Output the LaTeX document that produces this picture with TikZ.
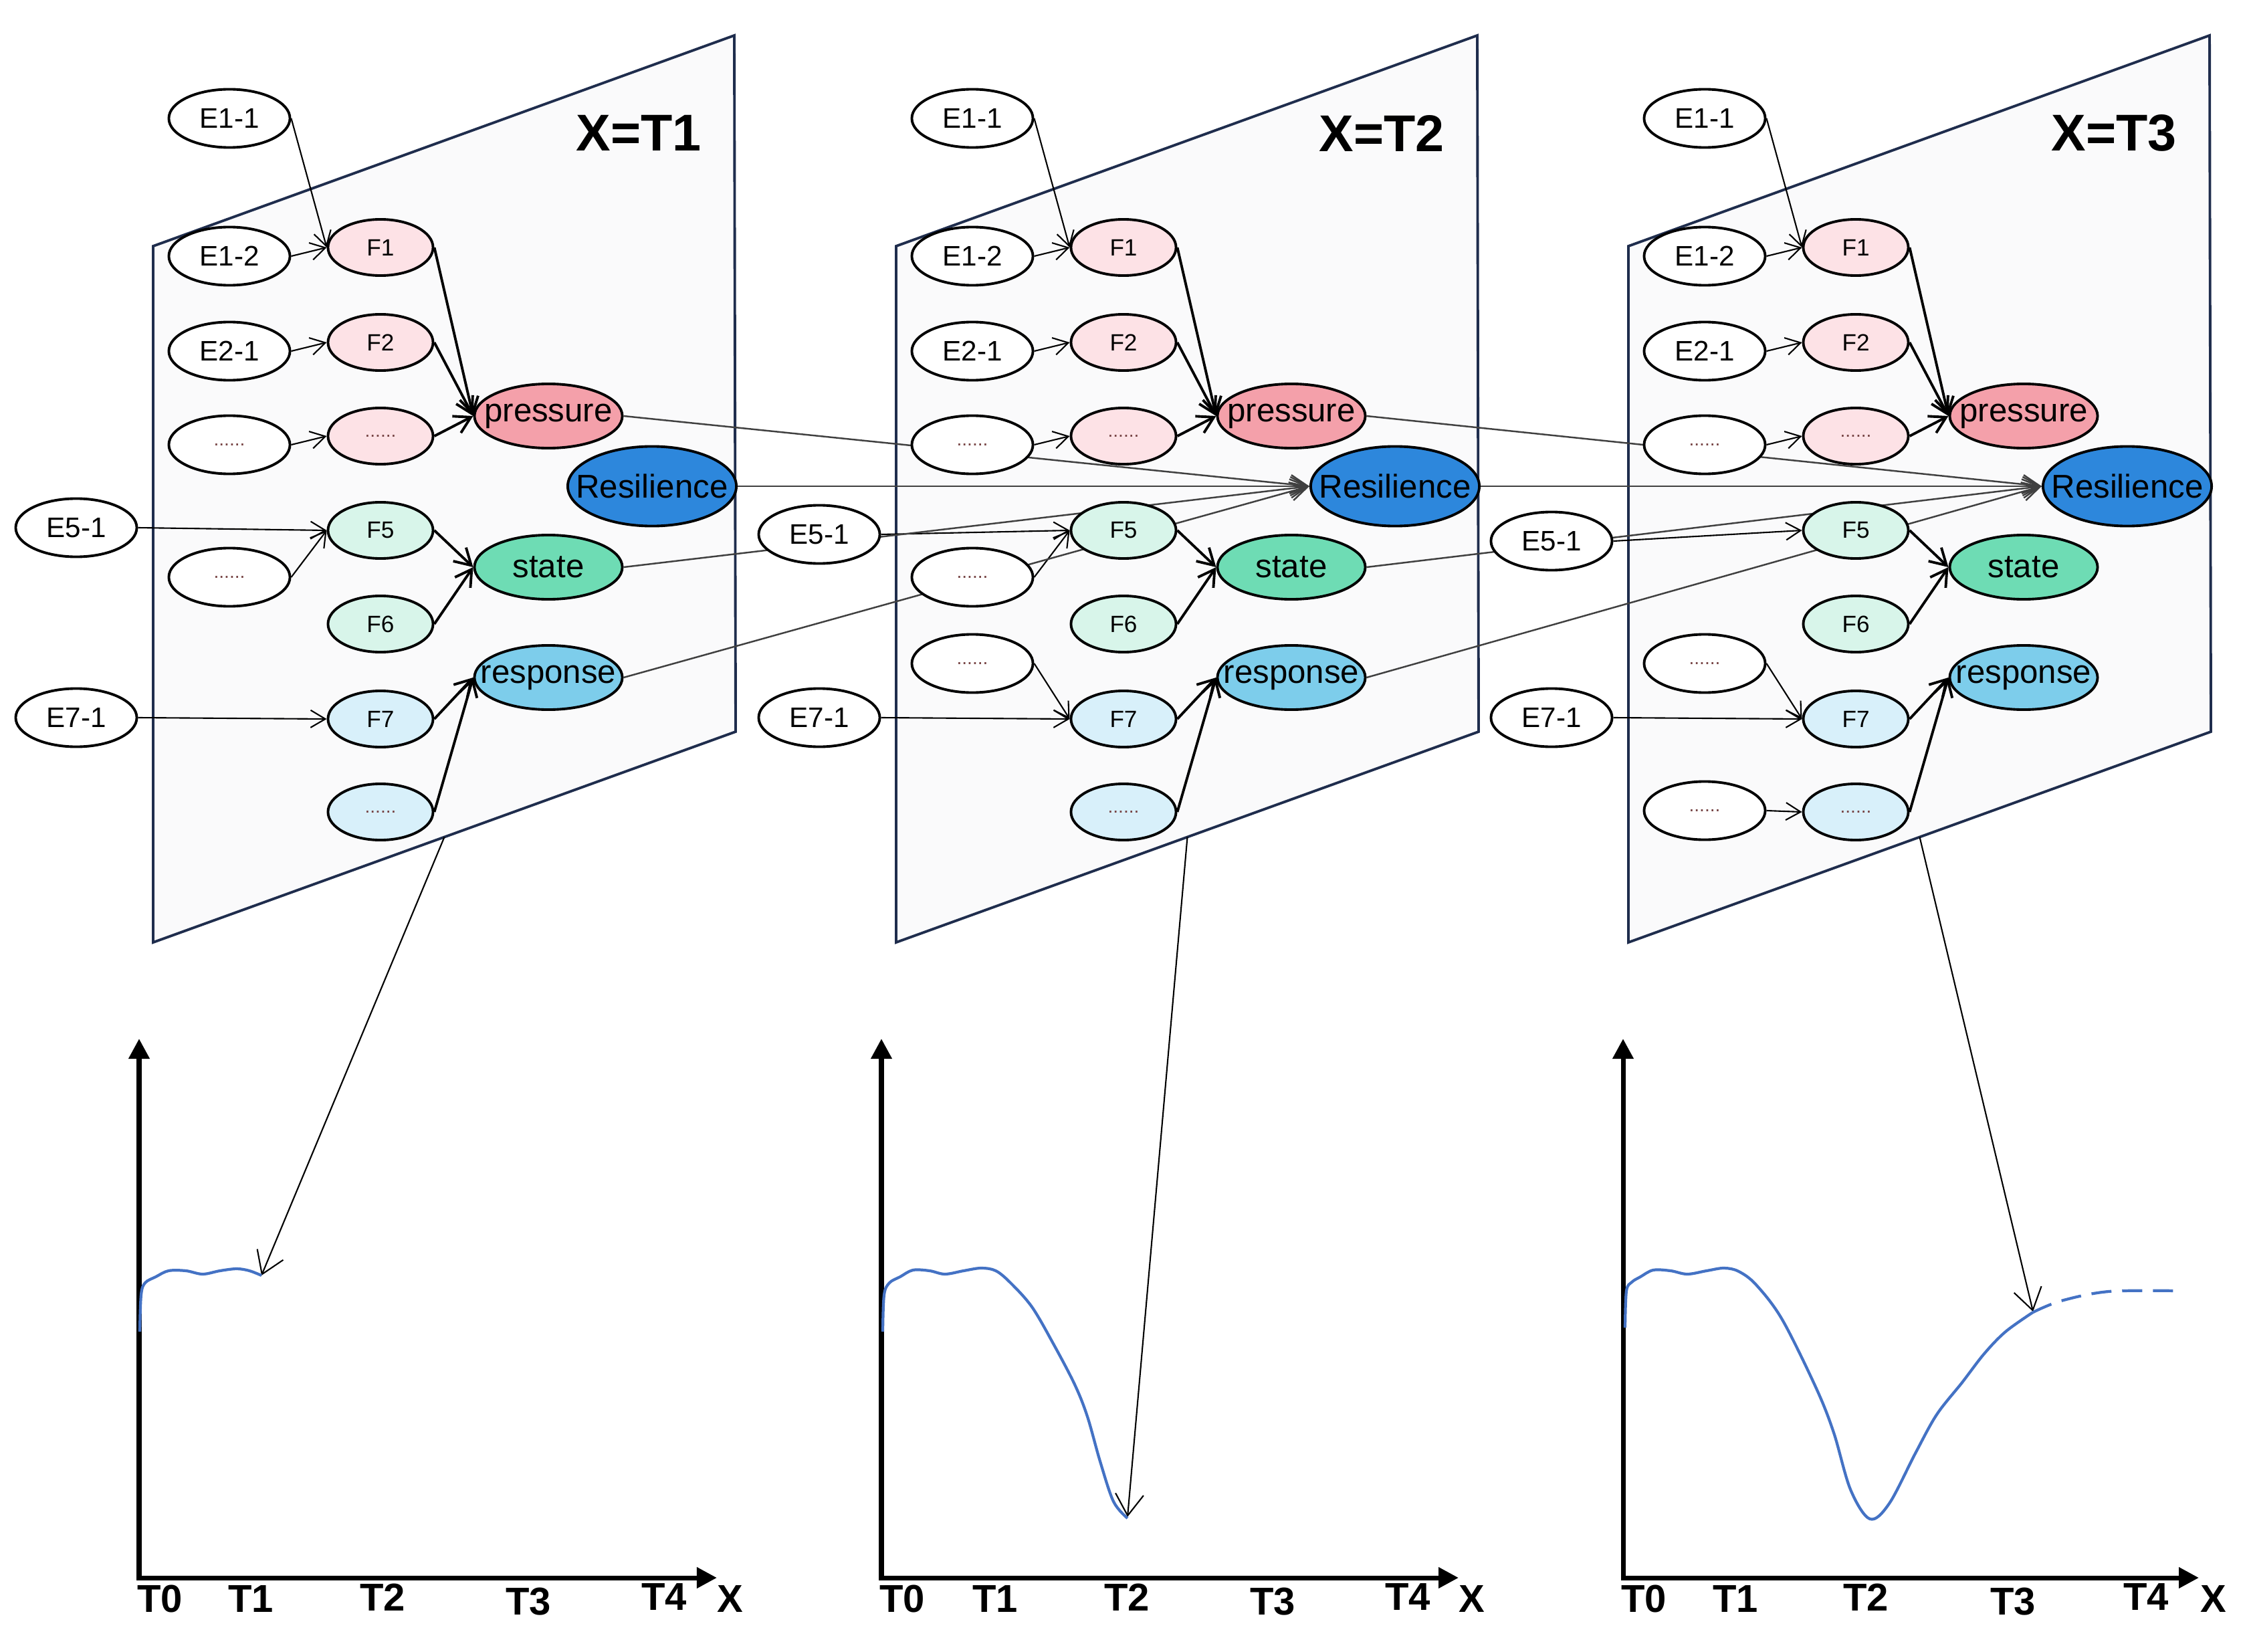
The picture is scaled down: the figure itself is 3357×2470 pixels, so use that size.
\documentclass[tikz,border=0pt]{standalone}
\usepackage{fontspec}
\setmainfont{Liberation Sans}
\usetikzlibrary{shapes.geometric,arrows.meta,calc}
\pgfdeclarelayer{panel}
\pgfdeclarelayer{edges}
\pgfsetlayers{panel,edges,main}
\definecolor{panelfill}{RGB}{250,250,251}
\definecolor{panelline}{RGB}{31,45,77}
\definecolor{pinkL}{RGB}{253,226,230}
\definecolor{pressC}{RGB}{244,160,170}
\definecolor{resC}{RGB}{45,135,220}
\definecolor{stateC}{RGB}{110,220,180}
\definecolor{mintL}{RGB}{216,245,234}
\definecolor{respC}{RGB}{125,205,235}
\definecolor{blueL}{RGB}{216,240,250}
\definecolor{dotC}{RGB}{120,70,70}
\definecolor{curveC}{RGB}{68,114,196}
\tikzset{
  enode/.style={ellipse, draw=black, line width=1.1pt, fill=white, minimum width=1.81cm, minimum height=0.87cm, inner sep=0pt, font=\fontsize{12}{12}\selectfont},
  fnode/.style={ellipse, draw=black, line width=1.1pt, minimum width=1.57cm, minimum height=0.84cm, inner sep=0pt, font=\fontsize{10}{10}\selectfont},
  bignode/.style={ellipse, draw=black, line width=1.1pt, minimum width=2.21cm, minimum height=0.96cm, inner sep=0pt, font=\fontsize{14}{14}\selectfont},
  resnode/.style={ellipse, draw=black, line width=1.1pt, fill=resC, minimum width=2.52cm, minimum height=1.19cm, inner sep=0pt, font=\fontsize{14}{14}\selectfont},
  thinarrow/.style={line width=0.6pt, -{Straight Barb[length=0.22cm,width=0.26cm]}},
  thickarrow/.style={line width=1.1pt, -{Straight Barb[length=0.24cm,width=0.28cm]}},
  crossarrow/.style={line width=0.7pt, black!75, -{Straight Barb[length=0.26cm,width=0.28cm]}},
  plotarrow/.style={line width=0.6pt, -{Straight Barb[length=0.32cm,width=0.42cm]}},
  axisstyle/.style={line width=2pt, {Triangle[length=0.3cm,width=0.3cm]}-{Triangle[length=0.3cm,width=0.3cm]}},
  tlabel/.style={font=\fontsize{16.5}{16.5}\selectfont\bfseries, inner sep=0pt},
  titlestyle/.style={font=\fontsize{22}{22}\selectfont\bfseries, inner sep=0pt},
  curvestyle/.style={line width=1.2pt, curveC, smooth, tension=0.55},
  panelstyle/.style={draw=panelline, fill=panelfill, line width=1.1pt, line join=miter},
}
\newcommand{\dd}{{\color{dotC}\fontsize{8}{8}\selectfont......}}
\newcommand{\zw}[1]{\makebox[0pt][c]{#1}}
\newcommand{\mypanel}[4]{%
\begin{scope}[shift={(#2,0)}]
\begin{pgfonlayer}{panel}
\draw[panelstyle] (229,368) -- (1098,53) -- (1100,1094) -- (229,1409) -- cycle;
\end{pgfonlayer}
\coordinate (BL#1) at (229,1409);
\coordinate (BR#1) at (1100,1094);
\node[titlestyle] (title#1) at (955,199) {X=#3};
\node[enode] (e11#1) at (343,177) {E1-1};
\node[enode] (e12#1) at (343,383) {E1-2};
\node[enode] (e21#1) at (343,525) {E2-1};
\node[enode] (ed1#1) at (343,665) {\dd};
\node[fnode,fill=pinkL] (f1#1) at (569,370) {F1};
\node[fnode,fill=pinkL] (f2#1) at (569,512) {F2};
\node[fnode,fill=pinkL] (fd#1) at (569,652) {\dd};
\node[bignode,fill=pressC] (pr#1) at (820,622) {\zw{pressure}};
\node[resnode] (res#1) at (975,727) {\zw{Resilience}};
\node[enode] (e51#1) at (114,#4) {E5-1};
\node[fnode,fill=mintL] (f5#1) at (569,793) {F5};
\node[fnode,fill=mintL] (f6#1) at (569,933) {F6};
\node[bignode,fill=stateC] (st#1) at (820,848) {\zw{state}};
\node[enode] (e71#1) at (114,1073) {E7-1};
\node[fnode,fill=blueL] (f7#1) at (569,1075) {F7};
\node[fnode,fill=blueL] (fb#1) at (569,1214) {\dd};
\node[bignode,fill=respC] (rp#1) at (820,1013) {\zw{response}};
\end{scope}
\begin{pgfonlayer}{edges}
\draw[thinarrow] (e11#1.east) -- (f1#1.west);
\draw[thinarrow] (e12#1.east) -- (f1#1.west);
\draw[thinarrow] (e21#1.east) -- (f2#1.west);
\draw[thinarrow] (ed1#1.east) -- (fd#1.west);
\draw[thickarrow] (f1#1.east) -- (pr#1.west);
\draw[thickarrow] (f2#1.east) -- (pr#1.west);
\draw[thickarrow] (fd#1.east) -- (pr#1.west);
\draw[thinarrow] (e51#1.east) -- (f5#1.west);
\draw[thickarrow] (f5#1.east) -- (st#1.west);
\draw[thickarrow] (f6#1.east) -- (st#1.west);
\draw[thinarrow] (e71#1.east) -- (f7#1.west);
\draw[thickarrow] (f7#1.east) -- (rp#1.west);
\draw[thickarrow] (fb#1.east) -- (rp#1.west);
\draw[plotarrow] ($(BL#1)!0.5!(BR#1)$) -- (tip#1);
\end{pgfonlayer}}
\begin{document}
\begin{tikzpicture}[x=0.01cm, y=-0.01cm]
\useasboundingbox (0,0) rectangle (3357,2470);
% plot tips (targets of the panel arrows)
\coordinate (tipa) at (391,1907);
\coordinate (tipb) at (1686,2268);
\coordinate (tipc) at (3040,1961);

\mypanel{a}{0}{T1}{789}
\mypanel{b}{1111}{T2}{799}
\mypanel{c}{2206}{T3}{809}

% panel specific extra nodes
\node[enode] (ed2a) at (343,863) {\dd};
\node[enode] (ed2b) at (1454,863) {\dd};
\node[enode] (ed3b) at (1454,992) {\dd};
\node[enode] (ed3c) at (2549,992) {\dd};
\node[enode] (ed4c) at (2549,1212) {\dd};

\begin{pgfonlayer}{edges}
\draw[thinarrow] (ed2a.east) -- (f5a.west);
\draw[thinarrow] (ed2b.east) -- (f5b.west);
\draw[thinarrow] (ed3b.east) -- (f7b.west);
\draw[thinarrow] (ed3c.east) -- (f7c.west);
\draw[thinarrow] (ed4c.east) -- (fbc.west);
% cross-panel connectors
\draw[crossarrow] (pra.east) -- (resb.west);
\draw[crossarrow] (resa.east) -- (resb.west);
\draw[crossarrow] (sta.east) -- (resb.west);
\draw[crossarrow] (rpa.east) -- (resb.west);
\draw[crossarrow] (prb.east) -- (resc.west);
\draw[crossarrow] (resb.east) -- (resc.west);
\draw[crossarrow] (stb.east) -- (resc.west);
\draw[crossarrow] (rpb.east) -- (resc.west);
\end{pgfonlayer}

% ---------- plot 1 ----------
\coordinate (ya) at (208,1553);
\coordinate (oa) at (208,2359);
\coordinate (xa) at (1072,2359);
\draw[axisstyle] (ya) -- (oa) -- (xa);
\node[tlabel] (t0a) at (239,2391) {T0};
\node[tlabel] (t1a) at (375,2391) {T1};
\node[tlabel] (t2a) at (572,2388) {T2};
\node[tlabel] (t3a) at (790,2395) {T3};
\node[tlabel] (t4a) at (993,2388) {T4};
\node[tlabel] (xla) at (1092,2391) {X};
\draw[curvestyle] plot coordinates {(209,1991) (211,1936) (217,1918) (233,1909) (252,1900) (278,1900) (303,1905) (329,1900) (354,1897) (373,1900) (391,1907)};

% ---------- plot 2 ----------
\coordinate (yb) at (1318,1553);
\coordinate (ob) at (1318,2359);
\coordinate (xb) at (2181,2359);
\draw[axisstyle] (yb) -- (ob) -- (xb);
\node[tlabel] (t0b) at (1349,2391) {T0};
\node[tlabel] (t1b) at (1488,2391) {T1};
\node[tlabel] (t2b) at (1685,2388) {T2};
\node[tlabel] (t3b) at (1903,2395) {T3};
\node[tlabel] (t4b) at (2105,2388) {T4};
\node[tlabel] (xlb) at (2201,2391) {X};
\draw[curvestyle] plot coordinates {(1320,1991) (1322,1936) (1330,1918) (1346,1909) (1365,1899) (1390,1900) (1413,1905) (1441,1900) (1467,1896) (1489,1900) (1511,1918) (1543,1954) (1575,2009) (1607,2070) (1626,2118) (1645,2185) (1665,2245) (1686,2270)};

% ---------- plot 3 ----------
\coordinate (yc) at (2427,1553);
\coordinate (oc) at (2427,2359);
\coordinate (xc) at (3288,2359);
\draw[axisstyle] (yc) -- (oc) -- (xc);
\node[tlabel] (t0c) at (2458,2391) {T0};
\node[tlabel] (t1c) at (2595,2391) {T1};
\node[tlabel] (t2c) at (2790,2388) {T2};
\node[tlabel] (t3c) at (3010,2395) {T3};
\node[tlabel] (t4c) at (3209,2388) {T4};
\node[tlabel] (xlc) at (3310,2391) {X};
\draw[curvestyle] plot coordinates {(2430,1985) (2432,1930) (2440,1917) (2453,1909) (2472,1899) (2498,1900) (2523,1905) (2552,1900) (2578,1896) (2600,1901) (2626,1921) (2665,1973) (2716,2076) (2742,2142) (2767,2227) (2796,2271) (2825,2248) (2864,2173) (2896,2115) (2934,2067) (2967,2024) (2999,1991) (3040,1962)};
\draw[curvestyle, dash pattern=on 0.3cm off 0.16cm] plot coordinates {(3040,1962) (3082,1945) (3153,1931) (3255,1930)};
\end{tikzpicture}
\end{document}
